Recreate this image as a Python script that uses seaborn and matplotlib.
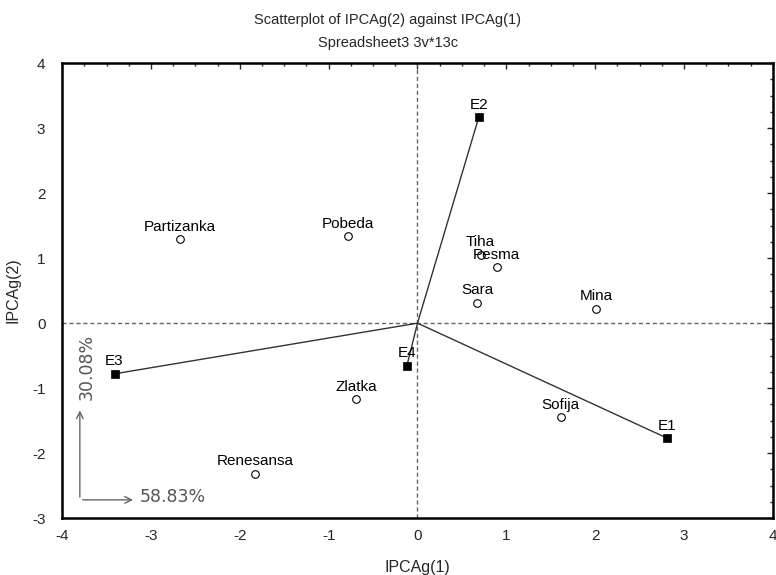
import matplotlib
matplotlib.use("Agg")
import matplotlib.pyplot as plt
import numpy as np
import pandas as pd
import seaborn as sns
from matplotlib.ticker import MultipleLocator

# genotypes (open circles)
cultivars = ["Partizanka", "Pobeda", "Tiha", "Pesma", "Sara", "Mina",
             "Zlatka", "Sofija", "Renesansa"]
cult_x = [-2.67, -0.78, 0.71, 0.89, 0.67, 2.01, -0.69, 1.61, -1.83]
cult_y = [1.29, 1.34, 1.05, 0.86, 0.31, 0.22, -1.17, -1.45, -2.32]

# environments (filled squares, joined to the origin)
envs = ["E1", "E2", "E3", "E4"]
env_x = [2.81, 0.69, -3.41, -0.12]
env_y = [-1.77, 3.17, -0.78, -0.66]

pc1_pct = "58.83%"
pc2_pct = "30.08%"

sns.set_style("white")
plt.rcParams["font.family"] = ["Liberation Sans", "DejaVu Sans"]
plt.rcParams["axes.unicode_minus"] = False

fig = plt.figure(figsize=(7.76, 5.75), dpi=100)
ax = fig.add_axes([0.080, 0.099, 0.916, 0.791])

ax.axhline(0, color="#666666", lw=1, ls=(0, (3, 2)), zorder=1)
ax.axvline(0, color="#666666", lw=1, ls=(0, (3, 2)), zorder=1)

# vectors from origin to each environment
for ex, ey in zip(env_x, env_y):
    ax.plot([0, ex], [0, ey], color="#333333", lw=1, zorder=2)

df_c = pd.DataFrame({"x": cult_x, "y": cult_y, "name": cultivars})
df_e = pd.DataFrame({"x": env_x, "y": env_y, "name": envs})

sns.scatterplot(data=df_c, x="x", y="y", marker="o", s=30, facecolor="white",
                edgecolor="black", linewidth=0.8, ax=ax, zorder=3)
sns.scatterplot(data=df_e, x="x", y="y", marker="s", s=40, color="black",
                edgecolor="black", linewidth=0.5, ax=ax, zorder=3)

for d in (df_c, df_e):
    for _, r in d.iterrows():
        ax.annotate(r["name"], (r["x"], r["y"]), xytext=(0, 4),
                    textcoords="offset points", ha="center", va="bottom",
                    fontsize=11, color="black", zorder=4)

# explained variance arrows
arr_kw = dict(arrowstyle="->", color="#666666", lw=1, mutation_scale=12)
ax.annotate("", xy=(-3.80, -1.30), xytext=(-3.80, -2.72), arrowprops=arr_kw)
ax.annotate("", xy=(-3.17, -2.72), xytext=(-3.80, -2.72), arrowprops=arr_kw)
ax.text(-3.72, -0.68, pc2_pct, rotation=90, ha="center", va="center",
        fontsize=12.5, color="#555555", family=["DejaVu Sans"])
ax.text(-3.13, -2.68, pc1_pct, ha="left", va="center",
        fontsize=12.5, color="#555555", family=["DejaVu Sans"])

ax.set_xlim(-4, 4)
ax.set_ylim(-3, 4)
ax.xaxis.set_major_locator(MultipleLocator(1))
ax.yaxis.set_major_locator(MultipleLocator(1))
ax.xaxis.set_minor_locator(MultipleLocator(0.25))
ax.yaxis.set_minor_locator(MultipleLocator(0.25))
ax.tick_params(which="both", direction="in", top=True, right=True,
               labelsize=11)
ax.tick_params(axis="y", pad=12)
ax.tick_params(axis="x", pad=8)
ax.tick_params(which="major", length=4, width=1)
ax.tick_params(which="minor", length=2, width=1)
ax.set_xticklabels([str(int(v)) for v in ax.get_xticks()])
ax.set_yticklabels([str(int(v)) for v in ax.get_yticks()])
for sp in ax.spines.values():
    sp.set_linewidth(1.8)
    sp.set_color("black")

ax.set_xlabel("IPCAg(1)", fontsize=11.5, labelpad=12)
ax.set_ylabel("IPCAg(2)", fontsize=11.5, labelpad=8)

fig.text(0.5, 0.965, "Scatterplot of IPCAg(2) against IPCAg(1)",
         ha="center", va="center", fontsize=10.5)
fig.text(0.5, 0.925, "Spreadsheet3 3v*13c", ha="center", va="center",
         fontsize=10.5)

fig.savefig("out.png", dpi=100)
